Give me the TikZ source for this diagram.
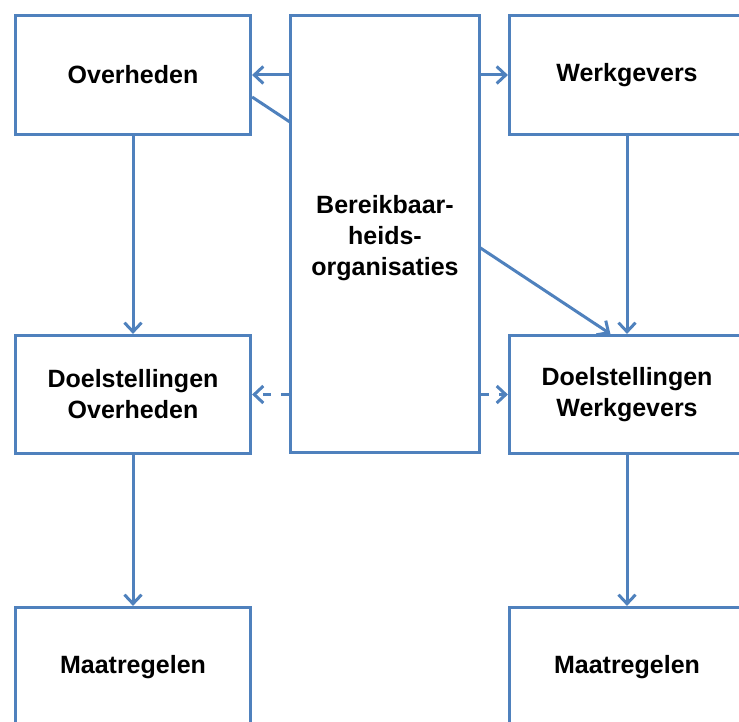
\documentclass[tikz,border=0pt]{standalone}
\usepackage{fontspec}
\setmainfont{Liberation Sans}
\usetikzlibrary{arrows.meta,calc}
\definecolor{ln}{HTML}{4F81BD}
\begin{document}
\begin{tikzpicture}[x=1pt,y=-1pt,
  box/.style={draw=ln,line width=3.2pt,fill=white,minimum width=235pt,inner sep=0pt,
    font=\bfseries\fontsize{25}{31}\selectfont,align=center},
  lbl/.style={inner sep=0pt,font=\bfseries\fontsize{25}{31}\selectfont,align=center},
  arr/.style={draw=ln,line width=3pt,-{Straight Barb[length=9pt,width=17pt]}},
  dsh/.style={arr,dash pattern=on 8pt off 10pt}]
\useasboundingbox[clip] (0,0) rectangle (739,722);
\node[box,minimum height=119pt] (ov) at (133,75) {Overheden};
\node[box,minimum height=119pt] (wg) at (627,75) {Werkgevers};
\node[box,minimum height=118pt] (dov) at (133,394.5) {Doelstellingen\\Overheden};
\node[box,minimum height=118pt] (dwg) at (627,394.5) {Doelstellingen\\Werkgevers};
\node[box,minimum height=119pt] (mov) at (133,667) {Maatregelen};
\node[box,minimum height=119pt] (mwg) at (627,667) {Maatregelen};
\coordinate (dstart) at ($(ov.east)+(0,22)$);
\coordinate (dend) at ($(dwg.north west)+(102.5,0)$);
\draw[arr] (dstart) -- (dend);
\node[box,minimum width=189pt,minimum height=437pt] (bo) at (385,234) {};
\node[lbl] (bot) at ($(bo.center)+(0,4)$) {Bereikbaar-\\heids-\\organisaties};
\draw[arr] (bo.west |- ov.east) -- (ov.east);
\draw[arr] (bo.east |- wg.west) -- (wg.west);
\draw[dsh] (bo.west |- dov.east) -- (dov.east);
\draw[dsh] (bo.east |- dwg.west) -- (dwg.west);
\draw[arr] (ov.south) -- (dov.north);
\draw[arr] (wg.south) -- (dwg.north);
\draw[arr] (dov.south) -- (mov.north);
\draw[arr] (dwg.south) -- (mwg.north);
\end{tikzpicture}
\end{document}
